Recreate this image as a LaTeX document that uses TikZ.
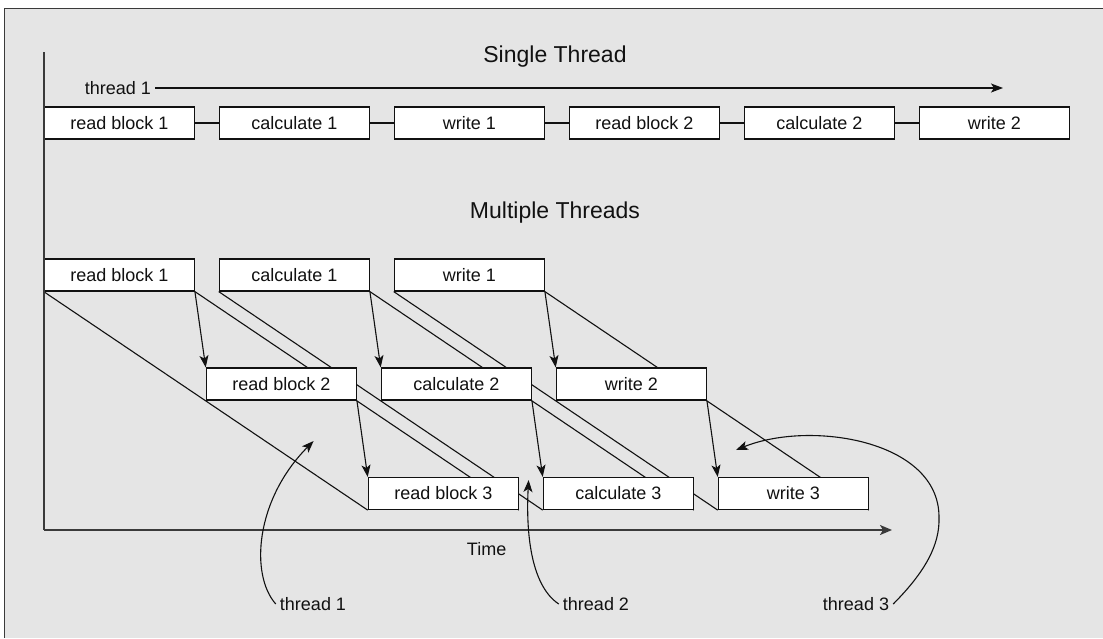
\documentclass[tikz,border=0pt]{standalone}
\usepackage{fontspec}
\setmainfont{Liberation Sans}
\usepackage{xcolor}
\usepackage{tikz}
\usetikzlibrary{arrows.meta}
\definecolor{panelgray}{HTML}{E5E5E5}
\definecolor{framegray}{HTML}{3A3A3A}
\definecolor{inkblack}{HTML}{111111}
\pgfdeclarelayer{panel}
\pgfdeclarelayer{wires}
\pgfsetlayers{panel,wires,main}
\tikzset{
  task/.style={draw=inkblack, fill=white, line width=1.2pt, minimum width=150pt, minimum height=32pt, inner sep=0pt, font=\fontsize{18}{20}\selectfont, text=inkblack},
  tag/.style={font=\fontsize{18}{20}\selectfont, text=inkblack, inner sep=4pt},
  heading/.style={font=\fontsize{23}{26}\selectfont, text=inkblack},
  arrow/.style={-{Stealth[length=12pt, width=9pt, inset=3pt]}, line width=1.1pt, draw=inkblack},
  link/.style={line width=1.1pt, draw=inkblack},
  axis/.style={line width=1.7pt, draw=framegray}
}

\begin{document}
\begin{tikzpicture}[x=1pt, y=-1pt]
  \useasboundingbox (0,0) rectangle (1103,638);
  \begin{pgfonlayer}{panel}
    \fill[panelgray] (4.5,8.5) rectangle (1103,638);
    \draw[framegray, line width=1.6pt] (1103,8.5) -- (4.5,8.5) -- (4.5,638);
  \end{pgfonlayer}

  \node[heading] (single) at (555,57) {Single Thread};
  \node[heading] (multi) at (555,213) {Multiple Threads};

  % single thread
  \node[task] (srb1) at (119.3,123) {read block 1};
  \node[task] (scalc1) at (294.3,123) {calculate 1};
  \node[task] (swr1) at (469.3,123) {write 1};
  \node[task] (srb2) at (644.3,123) {read block 2};
  \node[task] (scalc2) at (819.3,123) {calculate 2};
  \node[task] (swr2) at (994.3,123) {write 2};
  \foreach \a/\b in {srb1/scalc1, scalc1/swr1, swr1/srb2, srb2/scalc2, scalc2/swr2}
    \draw[link] (\a) -- (\b);

  \node[tag] (thr) at (118,88) {thread 1};
  \coordinate (thrend) at (1003,88);
  \draw[arrow, line width=1.3pt] (thr) -- (thrend);

  % multiple threads
  \node[task] (rb1) at (119.3,275) {read block 1};
  \node[task] (calc1) at (294.3,275) {calculate 1};
  \node[task] (wr1) at (469.3,275) {write 1};
  \node[task] (rb2) at (281.3,384) {read block 2};
  \node[task] (calc2) at (456.3,384) {calculate 2};
  \node[task] (wr2) at (631.3,384) {write 2};
  \node[task] (rb3) at (443.3,493.5) {read block 3};
  \node[task] (calc3) at (618.3,493.5) {calculate 3};
  \node[task] (wr3) at (793.3,493.5) {write 3};

  \begin{pgfonlayer}{wires}
    \foreach \t/\b in {rb1/rb3, calc1/calc3, wr1/wr3} {
      \draw[link] (\t.south west) -- (\b.south west);
      \draw[link] (\t.south east) -- (\b.south east);
    }
  \end{pgfonlayer}
  \foreach \a/\b in {rb1/rb2, calc1/calc2, wr1/wr2, rb2/rb3, calc2/calc3, wr2/wr3}
    \draw[arrow] (\a.south east) -- (\b.north west);

  % axes
  \coordinate (ytop) at (44.3,52);
  \coordinate (origin) at (44.3,530);
  \coordinate (xend) at (892,530);
  \draw[axis] (ytop) -- (origin);
  \draw[axis, -{Stealth[length=12pt, width=10pt, inset=3pt]}] (origin) -- (xend);
  \node[tag] (time) at (486.6,549) {Time};

  % thread labels
  \node[tag] (t1lbl) at (313,604) {thread 1};
  \node[tag] (t2lbl) at (596,604) {thread 2};
  \node[tag] (t3lbl) at (856,604) {thread 3};
  \coordinate (t1tip) at (313.6,441);
  \coordinate (t2tip) at (528.6,480);
  \coordinate (t3tip) at (736,450);
  \draw[arrow] (t1lbl.west) .. controls (250,575) and (255,500) .. (t1tip);
  \draw[arrow] (t2lbl.west) .. controls (530,585) and (526,530) .. (t2tip);
  \draw[arrow] (t3lbl.east) .. controls (925,572) and (940,545) .. (939,517)
    .. controls (939,440) and (810,420) .. (t3tip);
\end{tikzpicture}
\end{document}
